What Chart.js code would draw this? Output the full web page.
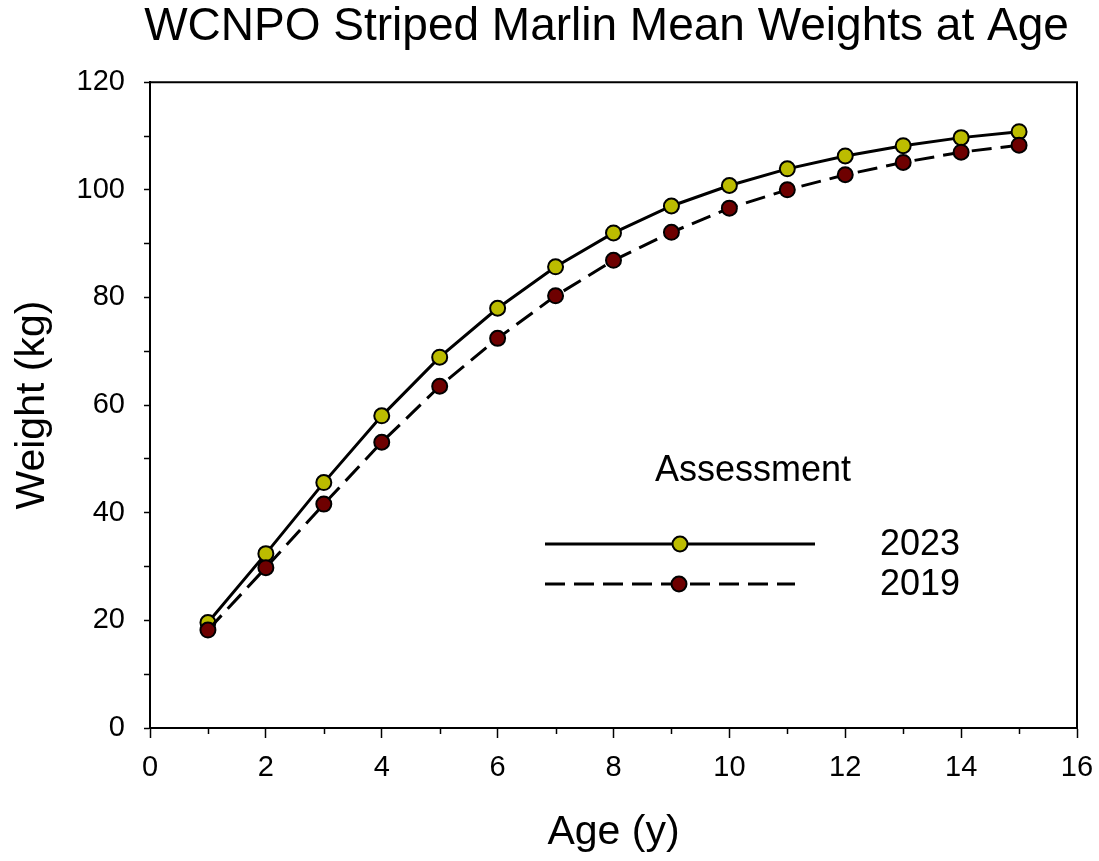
<!DOCTYPE html>
<html>
<head>
<meta charset="utf-8">
<script src="https://cdn.jsdelivr.net/npm/chart.js@4/dist/chart.umd.min.js"></script>
<style>
html,body{margin:0;padding:0;background:#fff;}
#wrap{width:1099px;height:861px;}
</style>
</head>
<body>
<div id="wrap"><canvas id="c" width="1099" height="861"></canvas></div>
<script>
const ages = [1, 2, 3, 4, 5, 6, 7, 8, 9, 10, 11, 12, 13, 14, 15];
const weights2023 = [19.6, 32.4, 45.6, 58.0, 68.9, 78.0, 85.7, 92.0, 97.0, 100.8, 103.9, 106.3, 108.2, 109.7, 110.8];
const weights2019 = [18.2, 29.8, 41.6, 53.1, 63.5, 72.4, 80.3, 86.9, 92.1, 96.6, 100.0, 102.8, 105.1, 107.0, 108.3];
const seriesLabels = ['2023', '2019'];
const legendTitle = 'Assessment';
const chartTitle = 'WCNPO Striped Marlin Mean Weights at Age';
const xTitle = 'Age (y)';
const yTitle = 'Weight (kg)';

const FONT = "'Liberation Sans', Arial, sans-serif";
const YELLOW = '#bcbc00';
const DARKRED = '#6e0000';
const DASH = [20, 9];

const toXY = (xs, ys) => xs.map((x, i) => ({x: x, y: ys[i]}));

const titleShift = {
  id: 'titleShift',
  afterLayout(chart) {
    if (chart.titleBlock) { chart.titleBlock.left = 136; chart.titleBlock.right = 1077; }
  }
};

const boxPlugin = {
  id: 'boxAndMinor',
  afterDraw(chart) {
    const {ctx, chartArea: a, scales} = chart;
    ctx.save();
    ctx.strokeStyle = '#000';
    ctx.lineWidth = 2;
    ctx.beginPath();
    ctx.moveTo(a.left, a.top); ctx.lineTo(a.right, a.top); ctx.lineTo(a.right, a.bottom);
    ctx.stroke();
    const xs = scales.x;
    ctx.lineWidth = 1.5;
    for (let v = 1; v < 16; v += 2) {
      const px = Math.round(xs.getPixelForValue(v)) + 0.5;
      ctx.beginPath(); ctx.moveTo(px, a.bottom); ctx.lineTo(px, a.bottom + 6); ctx.stroke();
    }
    ctx.restore();
  }
};

const legendPlugin = {
  id: 'insideLegend',
  afterDatasetsDraw(chart) {
    const {ctx} = chart;
    ctx.save();
    ctx.fillStyle = '#000';
    ctx.font = '36px ' + FONT;
    ctx.textAlign = 'center';
    ctx.textBaseline = 'middle';
    ctx.fillText(legendTitle, 753, 471);
    const rows = [
      {y: 544, x0: 545, x1: 815, mx: 680, ds: chart.data.datasets[0]},
      {y: 584, x0: 545, x1: 795, mx: 679, ds: chart.data.datasets[1]}
    ];
    rows.forEach(r => {
      ctx.strokeStyle = '#000';
      ctx.lineWidth = 3;
      ctx.setLineDash(r.ds.borderDash || []);
      ctx.beginPath(); ctx.moveTo(r.x0, r.y); ctx.lineTo(r.x1, r.y); ctx.stroke();
      ctx.setLineDash([]);
      ctx.beginPath(); ctx.arc(r.mx, r.y, 7.5, 0, Math.PI * 2);
      ctx.fillStyle = r.ds.pointBackgroundColor; ctx.fill();
      ctx.lineWidth = 2; ctx.strokeStyle = '#000'; ctx.stroke();
      ctx.fillStyle = '#000';
      ctx.textAlign = 'left';
      ctx.fillText(r.ds.label, 880, r.y + 1);
    });
    ctx.restore();
  }
};

new Chart(document.getElementById('c'), {
  type: 'line',
  data: {
    datasets: [
      {
        label: seriesLabels[0],
        data: toXY(ages, weights2023),
        borderColor: '#000',
        borderWidth: 3,
        pointBackgroundColor: YELLOW,
        pointBorderColor: '#000',
        pointBorderWidth: 2,
        pointRadius: 7.5,
        tension: 0,
        order: 1
      },
      {
        label: seriesLabels[1],
        data: toXY(ages, weights2019),
        borderColor: '#000',
        borderWidth: 3,
        borderDash: DASH,
        pointBackgroundColor: DARKRED,
        pointBorderColor: '#000',
        pointBorderWidth: 2,
        pointRadius: 7.5,
        tension: 0,
        order: 0
      }
    ]
  },
  options: {
    responsive: false,
    animation: false,
    layout: {padding: {top: 0, right: 22, bottom: 0, left: 0}},
    plugins: {
      legend: {display: false},
      tooltip: {enabled: false},
      title: {
        display: true,
        text: chartTitle,
        color: '#000',
        font: {family: FONT, size: 46, weight: 'normal', lineHeight: 1.2},
        padding: {top: 0, bottom: 27}
      }
    },
    scales: {
      x: {
        type: 'linear',
        min: 0, max: 16,
        ticks: {
          stepSize: 2,
          color: '#000',
          font: {family: FONT, size: 29},
          padding: 13,
          maxRotation: 0
        },
        grid: {drawOnChartArea: false, drawTicks: true, tickLength: 10, tickWidth: 1.5, tickColor: '#000'},
        border: {display: true, color: '#000', width: 2},
        title: {
          display: true, text: xTitle, color: '#000',
          font: {family: FONT, size: 41, lineHeight: 1.2},
          padding: {top: 0, bottom: 4}
        },
        afterFit(scale) { scale.height = 133; scale.paddingRight = 0; scale.paddingLeft = 0; }
      },
      y: {
        type: 'linear',
        min: 0, max: 120,
        ticks: {
          stepSize: 10,
          color: '#000',
          font: {family: FONT, size: 29},
          padding: 19,
          callback: v => (v % 20 === 0 ? String(v) : '')
        },
        grid: {drawOnChartArea: false, drawTicks: true, tickLength: 6, tickWidth: 1.5, tickColor: '#000'},
        border: {display: true, color: '#000', width: 2},
        title: {
          display: true, text: yTitle, color: '#000',
          font: {family: FONT, size: 41, lineHeight: 1.2},
          padding: {top: 8, bottom: 0}
        },
        afterFit(scale) { scale.width = 150; }
      }
    }
  },
  plugins: [titleShift, boxPlugin, legendPlugin]
});
</script>
</body>
</html>
